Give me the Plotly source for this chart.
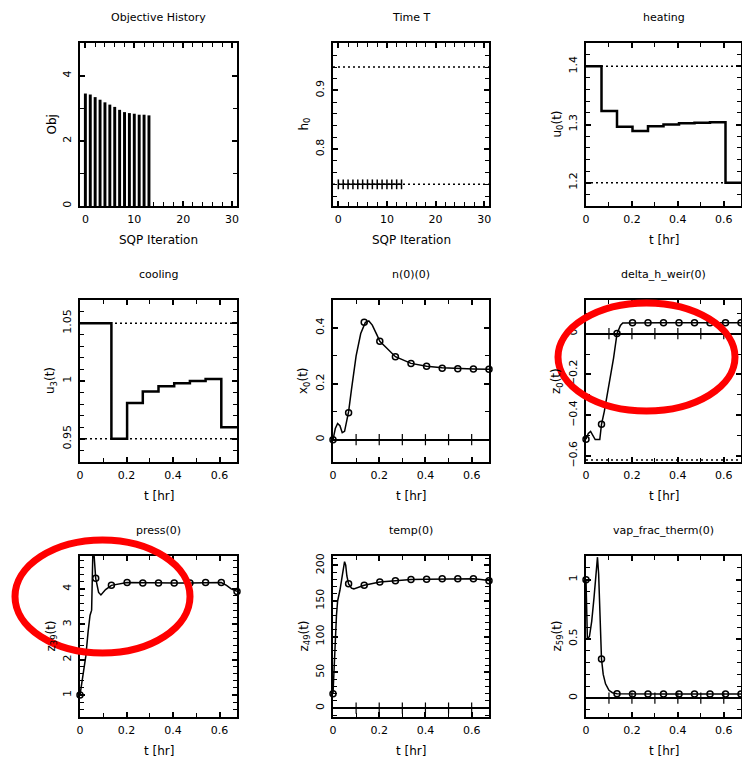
import plotly.graph_objects as go

W, H = 742, 760

# ---------------- data ----------------
iters = [0, 1, 2, 3, 4, 5, 6, 7, 8, 9, 10, 11, 12, 13]
obj_vals = [3.45, 3.42, 3.34, 3.26, 3.18, 3.11, 3.04, 2.95, 2.88, 2.85, 2.83, 2.80, 2.80, 2.78]
T_vals = [0.74, 0.74, 0.74, 0.74, 0.74, 0.74, 0.74, 0.74, 0.74, 0.74, 0.74, 0.74, 0.74, 0.74]
T_bounds = [0.94, 0.74]

t_edges = [0, 0.0675, 0.135, 0.2025, 0.27, 0.3375, 0.405, 0.4725, 0.54, 0.6075, 0.675]
heating = [1.4, 1.323, 1.296, 1.289, 1.297, 1.300, 1.302, 1.303, 1.304, 1.2]
heat_bounds = [1.4, 1.2]
cooling = [1.05, 1.05, 0.95, 0.981, 0.991, 0.9954, 0.998, 1.0, 1.0017, 0.960]
cool_bounds = [1.05, 0.95]

# n(0)(0)
x0_t = [0, 0.01, 0.02, 0.03, 0.04, 0.05, 0.06, 0.0675, 0.08, 0.1, 0.12, 0.14, 0.155, 0.17,
        0.19, 0.2025, 0.23, 0.27, 0.3375, 0.405, 0.4725, 0.54, 0.6075, 0.675]
x0_v = [0, 0.04, 0.058, 0.05, 0.025, 0.03, 0.07, 0.10, 0.18, 0.30, 0.38, 0.42, 0.425, 0.41,
        0.375, 0.352, 0.33, 0.297, 0.273, 0.263, 0.257, 0.254, 0.253, 0.252]
x0_nodes = [0, 0.096, 0.42, 0.352, 0.297, 0.273, 0.263, 0.256, 0.254, 0.253, 0.252]

# delta_h_weir(0)
dh_t = [0, 0.01, 0.02, 0.03, 0.04, 0.06, 0.0675, 0.08, 0.1, 0.12, 0.135, 0.15, 0.16, 0.2025,
        0.3375, 0.4725, 0.6075, 0.675]
dh_v = [-0.518, -0.49, -0.48, -0.50, -0.52, -0.52, -0.445, -0.38, -0.26, -0.12, 0.0, 0.04,
        0.052, 0.053, 0.053, 0.053, 0.053, 0.053]
dh_nodes = [-0.518, -0.445, 0.0, 0.053, 0.053, 0.053, 0.053, 0.053, 0.053, 0.053, 0.053]
dh_bounds = [-0.62]

# press(0)
pr_t = [0, 0.012, 0.025, 0.035, 0.043, 0.05, 0.055, 0.06, 0.065, 0.0675, 0.08, 0.09, 0.11,
        0.135, 0.2025, 0.27, 0.3375, 0.405, 0.4725, 0.54, 0.6075, 0.63, 0.65, 0.675]
pr_v = [1.0, 1.5, 2.1, 2.8, 3.25, 3.4, 4.95, 5.0, 4.6, 4.3, 3.9, 3.83, 3.98,
        4.1, 4.18, 4.17, 4.17, 4.17, 4.17, 4.18, 4.18, 4.1, 4.0, 3.93]
pr_nodes = [1.0, 4.3, 4.1, 4.18, 4.17, 4.17, 4.17, 4.17, 4.18, 4.18, 3.93]

# temp(0)
tp_t = [0, 0.005, 0.01, 0.015, 0.02, 0.03, 0.04, 0.05, 0.055, 0.06, 0.0675, 0.08, 0.09, 0.11,
        0.135, 0.2025, 0.27, 0.3375, 0.405, 0.4725, 0.54, 0.6075, 0.64, 0.675]
tp_v = [20, 60, 100, 130, 150, 165, 185, 205, 200, 185, 174, 168, 167, 169,
        172, 176.5, 178.5, 180, 180.5, 181, 181, 181, 180, 178.5]
tp_nodes = [20, 174, 172, 176.5, 178.5, 180, 180.5, 181, 181, 181, 178.5]

# vap_frac_therm(0)
vf_t = [0, 0.006, 0.015, 0.025, 0.035, 0.045, 0.05, 0.055, 0.06, 0.0675, 0.075, 0.085, 0.1,
        0.115, 0.135, 0.2025, 0.3375, 0.4725, 0.6075, 0.675]
vf_v = [1.0, 0.5, 0.52, 0.65, 0.85, 1.12, 1.19, 1.05, 0.75, 0.33, 0.2, 0.12, 0.065,
        0.045, 0.037, 0.035, 0.035, 0.035, 0.035, 0.035]
vf_nodes = [1.0, 0.33, 0.037, 0.035, 0.035, 0.035, 0.035, 0.035, 0.035, 0.035, 0.035]

# tick positions drawn along the zero line of the state plots
zero_ticks = [0.1, 0.2, 0.3, 0.4, 0.5, 0.6]

titles = ["Objective History", "Time T", "heating", "cooling", "n(0)(0)", "delta_h_weir(0)",
          "press(0)", "temp(0)", "vap_frac_therm(0)"]
ytitles = ["Obj", "h<sub>0</sub>", "u<sub>0</sub>(t)", "u<sub>3</sub>(t)", "x<sub>0</sub>(t)",
           "z<sub>0</sub>(t)", "z<sub>39</sub>(t)", "z<sub>49</sub>(t)", "z<sub>59</sub>(t)"]
xtitles = ["SQP Iteration", "SQP Iteration"] + ["t [hr]"] * 7

# ---------------- layout geometry (pixels) ----------------
cols = [(80, 237), (333, 489), (586, 741)]
rows = [(43, 206), (300, 462), (556, 717)]

def px(x):
    return x / W

def py(y):
    return 1 - y / H

FONT = "DejaVu Sans"
fig = go.Figure()

yranges = [[0, 5], [0.703, 0.981], [1.16, 1.44], [0.93, 1.07], [-0.08, 0.5], [-0.63, 0.165],
           [0.38, 4.93], [-12.5, 213], [-0.16, 1.2]]
ydt = [(2, 1), (0.1, 0.02), (0.1, 0.02), (0.05, 0.01), (0.2, 0.1), (0.2, 0.1), (1, 0.2),
       (50, 10), (0.5, 0.1)]

layout = dict(width=W, height=H, margin=dict(l=0, r=0, t=0, b=0), autosize=False,
              paper_bgcolor="white", plot_bgcolor="white", showlegend=False,
              font=dict(family=FONT, size=11, color="black"))

annotations = []
for i in range(9):
    r, c = divmod(i, 3)
    k = "" if i == 0 else str(i + 1)
    x0p, x1p = cols[c]
    y0p, y1p = rows[r]
    if i < 2:
        xr, xd, xm = [-1.1, 31], 10, 2
    else:
        xr, xd, xm = [0, 0.675], 0.2, 0.1
    axis_common = dict(showline=True, linecolor="black", linewidth=2, mirror="allticks",
                       ticks="inside", ticklen=5, tickwidth=1.5, tickcolor="black",
                       showgrid=False, zeroline=False, automargin=False,
                       tickfont=dict(family=FONT, size=11, color="black"))
    layout["xaxis" + k] = dict(axis_common, domain=[px(x0p), px(x1p)], anchor="y" + k,
                               range=xr, dtick=xd, tick0=0,
                               minor=dict(ticks="inside", ticklen=4, tickwidth=1.2,
                                          tickcolor="black", dtick=xm, tick0=0),
                               ticklabelstandoff=2)
    layout["yaxis" + k] = dict(axis_common, domain=[py(y1p), py(y0p)], anchor="x" + k,
                               range=yranges[i], dtick=ydt[i][0], tick0=0, tickangle=-90,
                               minor=dict(ticks="inside", ticklen=4, tickwidth=1.2,
                                          tickcolor="black", dtick=ydt[i][1], tick0=0),
                               ticklabelstandoff=3)
    if i in (4, 5, 7, 8):
        layout["yaxis" + k].update(zeroline=True, zerolinecolor="black", zerolinewidth=1.5)
    xc = (x0p + x1p) / 2
    yc = (y0p + y1p) / 2
    annotations.append(dict(text=titles[i], x=px(xc), y=py(y0p - 26), xref="paper", yref="paper",
                            showarrow=False, xanchor="center", yanchor="middle",
                            font=dict(size=11)))
    annotations.append(dict(text=xtitles[i], x=px(xc), y=py(y1p + 34), xref="paper", yref="paper",
                            showarrow=False, xanchor="center", yanchor="middle",
                            font=dict(size=12)))
    annotations.append(dict(text=ytitles[i], x=px(x0p - 29), y=py(yc), xref="paper", yref="paper",
                            showarrow=False, xanchor="center", yanchor="middle", textangle=-90,
                            font=dict(size=12)))

layout["annotations"] = annotations

def ax(i):
    return ("x" if i == 0 else "x" + str(i + 1)), ("y" if i == 0 else "y" + str(i + 1))

# 1 objective history
xa, ya = ax(0)
fig.add_trace(go.Bar(x=iters, y=obj_vals, width=0.6, marker=dict(color="black", line=dict(width=0)),
                     xaxis=xa, yaxis=ya))
# 2 time T
xa, ya = ax(1)
fig.add_trace(go.Scatter(x=iters, y=T_vals, mode="lines+markers",
                         line=dict(color="black", width=1.5),
                         marker=dict(symbol="line-ns", size=7, color="black",
                                     line=dict(color="black", width=1.5)),
                         xaxis=xa, yaxis=ya))

shapes = []
DOT = "2px,3px"
def bound_lines(i, vals):
    xa, ya = ax(i)
    for v in vals:
        shapes.append(dict(type="line", xref=xa + " domain", yref=ya, x0=0, x1=1, y0=v, y1=v,
                           line=dict(color="black", width=1.5, dash=DOT), layer="below"))

bound_lines(1, T_bounds)
bound_lines(2, heat_bounds)
bound_lines(3, cool_bounds)
bound_lines(5, dh_bounds)

# 3 heating, 4 cooling
for i, vals in ((2, heating), (3, cooling)):
    xa, ya = ax(i)
    fig.add_trace(go.Scatter(x=t_edges, y=vals + [vals[-1]], mode="lines", line_shape="hv",
                             line=dict(color="black", width=2.5), xaxis=xa, yaxis=ya))

# state plots
for i, tt, vv, nodes in ((4, x0_t, x0_v, x0_nodes), (5, dh_t, dh_v, dh_nodes),
                         (6, pr_t, pr_v, pr_nodes), (7, tp_t, tp_v, tp_nodes),
                         (8, vf_t, vf_v, vf_nodes)):
    xa, ya = ax(i)
    if i != 6:
        fig.add_trace(go.Scatter(x=zero_ticks, y=[0] * len(zero_ticks), mode="markers",
                                 marker=dict(symbol="line-ns", size=8, color="black",
                                             line=dict(color="black", width=1.2)),
                                 xaxis=xa, yaxis=ya))
    fig.add_trace(go.Scatter(x=tt, y=vv, mode="lines", line=dict(color="black", width=1.5),
                             xaxis=xa, yaxis=ya))
    fig.add_trace(go.Scatter(x=t_edges, y=nodes, mode="markers", cliponaxis=False,
                             marker=dict(symbol="circle-open", size=6, color="black",
                                         line=dict(color="black", width=1.5)),
                             xaxis=xa, yaxis=ya))

# red highlight ellipses
shapes.append(dict(type="circle", xref="paper", yref="paper", x0=px(558), x1=px(735),
                   y0=py(411), y1=py(303), line=dict(color="#ff0000", width=7)))
shapes.append(dict(type="circle", xref="paper", yref="paper", x0=px(15), x1=px(190),
                   y0=py(653), y1=py(540), line=dict(color="#ff0000", width=7)))
layout["shapes"] = shapes

fig.update_layout(**layout)
fig.write_html("out.html", config={"displayModeBar": False},
               post_script="document.body.style.margin='0';document.body.style.overflow='hidden';")
